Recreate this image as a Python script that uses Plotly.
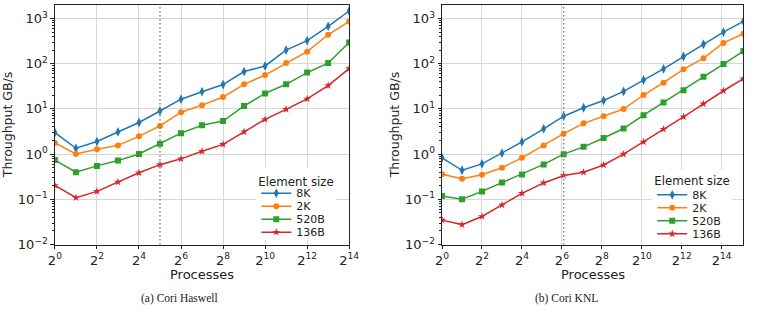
import math
import plotly.graph_objects as go

# ---------------- data ----------------
series_names = ["8K", "2K", "520B", "136B"]

haswell_procs = [1, 2, 4, 8, 16, 32, 64, 128, 256, 512, 1024, 2048, 4096, 8192, 16384]
haswell_8K = [3.0, 1.35, 1.9, 3.1, 5.0, 9.0, 16.4, 24, 34.5, 67, 89, 200, 324, 671, 1460]
haswell_2K = [1.77, 1.01, 1.28, 1.56, 2.47, 4.2, 8.45, 12.1, 18.3, 35, 56, 103, 184, 436, 861]
haswell_520B = [0.74, 0.40, 0.55, 0.72, 1.01, 1.69, 2.91, 4.34, 5.4, 11.6, 22, 35, 63.6, 103, 293]
haswell_136B = [0.203, 0.109, 0.150, 0.242, 0.387, 0.585, 0.787, 1.156, 1.64, 3.12, 5.85, 9.8, 16.6, 32.8, 77.6]

knl_procs = [1, 2, 4, 8, 16, 34, 68, 136, 272, 544, 1088, 2176, 4352, 8704, 17408, 34816]
knl_8K = [0.83, 0.44, 0.61, 1.05, 1.86, 3.63, 6.9, 10.6, 15.3, 24.4, 43.6, 76.4, 144, 269, 499, 861]
knl_2K = [0.36, 0.287, 0.35, 0.50, 0.83, 1.56, 2.83, 4.8, 6.9, 9.95, 20.3, 38, 75, 132, 288, 458]
knl_520B = [0.119, 0.101, 0.150, 0.235, 0.356, 0.593, 1.0, 1.45, 2.27, 3.68, 7.28, 13.9, 26, 51.4, 98, 190]
knl_136B = [0.0348, 0.0277, 0.0419, 0.075, 0.136, 0.231, 0.338, 0.398, 0.575, 1.0, 1.86, 3.56, 6.68, 12.9, 25.2, 46.5]

haswell_node = 32
knl_node = 68

x_tick_exps = [0, 2, 4, 6, 8, 10, 12, 14]
y_tick_exps = [-2, -1, 0, 1, 2, 3]

# ---------------- style ----------------
colors = ["#1f77b4", "#ff7f0e", "#2ca02c", "#d62728"]
symbols = ["diamond-tall", "circle", "square", "star"]
msizes = [7, 6, 6, 6]
FONT = "DejaVu Sans"
TXT = "#222222"

fig = go.Figure()
haswell = [haswell_8K, haswell_2K, haswell_520B, haswell_136B]
knl = [knl_8K, knl_2K, knl_520B, knl_136B]
for i, name in enumerate(series_names):
    common = dict(mode="lines+markers", name=name,
                  line=dict(color=colors[i], width=1.5),
                  marker=dict(color=colors[i], symbol=symbols[i], size=msizes[i], line=dict(width=0)))
    fig.add_trace(go.Scatter(x=haswell_procs, y=haswell[i], xaxis="x", yaxis="y",
                             legend="legend", **common))
    fig.add_trace(go.Scatter(x=knl_procs, y=knl[i], xaxis="x2", yaxis="y2",
                             legend="legend2", **common))

W, H = 759, 314
def px_x(p):
    return p / W
def px_y(p):
    return (H - p) / H

ydom = [px_y(251), px_y(5)]
minor_vals = [m * 10 ** e for e in range(-2, 4) for m in range(2, 10)]

def xaxis(dom, xmax, anchor):
    return dict(domain=dom, type="log", range=[0, math.log10(xmax)], anchor=anchor,
                tickmode="array", tickvals=[2 ** e for e in x_tick_exps],
                ticktext=["2<sup>%d</sup>" % e for e in x_tick_exps],
                showgrid=True, gridcolor="#d6d6d6", gridwidth=0.8,
                ticks="outside", ticklen=3.5, tickwidth=0.8, tickcolor=TXT,
                showline=True, linecolor=TXT, linewidth=1, mirror=True,
                zeroline=False, tickfont=dict(size=13, color=TXT))

def yaxis(anchor):
    return dict(domain=ydom, type="log", range=[-2, 3.30], anchor=anchor,
                tickmode="array", tickvals=[10.0 ** e for e in y_tick_exps],
                ticktext=["10<sup>%s</sup>" % (str(e).replace("-", "\u2212")) for e in y_tick_exps],
                showgrid=True, gridcolor="#d6d6d6", gridwidth=0.8,
                ticks="outside", ticklen=3.5, tickwidth=0.8, tickcolor=TXT,
                minor=dict(tickmode="array", tickvals=minor_vals, ticks="outside",
                           ticklen=2, tickwidth=0.6, tickcolor=TXT, showgrid=False),
                showline=True, linecolor=TXT, linewidth=1, mirror=True,
                zeroline=False, tickfont=dict(size=13, color=TXT))

def legend(x, y):
    return dict(x=x, y=y, xanchor="left", yanchor="top", bgcolor="white",
                borderwidth=0, itemwidth=30, tracegroupgap=0,
                title=dict(text="Element size", font=dict(size=11.8, color=TXT)),
                font=dict(size=11, color=TXT))

fig.update_layout(
    width=W, height=H, margin=dict(l=0, r=0, t=0, b=0),
    paper_bgcolor="white", plot_bgcolor="white",
    font=dict(family=FONT, size=12, color=TXT),
    xaxis=xaxis([px_x(49), px_x(350)], max(haswell_procs), "y"),
    yaxis=yaxis("x"),
    xaxis2=xaxis([px_x(445), px_x(753.3)], max(knl_procs), "y2"),
    yaxis2=yaxis("x2"),
    legend=legend(px_x(255), px_y(172)),
    legend2=legend(px_x(660), px_y(174)),
    showlegend=True,
)

for xref, yref, xv in (("x", "y domain", haswell_node), ("x2", "y2 domain", knl_node)):
    fig.add_shape(type="line", xref=xref, yref=yref, x0=xv, x1=xv, y0=0, y1=1,
                  line=dict(color="#7f7f7f", width=1.4, dash="1.5px,2.5px"))

annos = [
    dict(text="Throughput GB/s", x=px_x(0.5), y=(ydom[0] + ydom[1]) / 2, textangle=-90, size=12.5, fam=FONT),
    dict(text="Throughput GB/s", x=px_x(396.5), y=(ydom[0] + ydom[1]) / 2, textangle=-90, size=12.5, fam=FONT),
    dict(text="Processes", x=px_x(199.5), y=px_y(282), textangle=0, size=13, fam=FONT),
    dict(text="Processes", x=px_x(599), y=px_y(282), textangle=0, size=13, fam=FONT),
    dict(text="(a) Cori Haswell", x=px_x(176), y=px_y(306), textangle=0, size=11.5, fam="Liberation Serif"),
    dict(text="(b) Cori KNL", x=px_x(572), y=px_y(306), textangle=0, size=11.5, fam="Liberation Serif"),
]
for a in annos:
    fig.add_annotation(text=a["text"], x=a["x"], y=a["y"], xref="paper", yref="paper",
                       xanchor="center", yanchor="middle", textangle=a["textangle"],
                       showarrow=False, font=dict(family=a["fam"], size=a["size"], color=TXT))

# compact legend rows (matplotlib-like spacing); targets are pixel centres of rows
js = """
var gd = document.getElementById('{plot_id}');
var STEP = 13, PADB = 8;
var targets = {legend: {first: 193.2, title: 181.7}, legend2: {first: 194.8, title: 184}};
['legend', 'legend2'].forEach(function(cls) {
  var leg = gd.querySelector('g.' + cls);
  if (!leg) return;
  var lm = /translate\\(\\s*([-\\d.e]+)[\\s,]+([-\\d.e]+)\\s*\\)/.exec(leg.getAttribute('transform') || '');
  var ly = lm ? parseFloat(lm[2]) : 0;
  var tr = leg.querySelectorAll('g.traces');
  if (!tr.length) return;
  var m = /translate\\(\\s*([-\\d.e]+)[\\s,]+([-\\d.e]+)\\s*\\)/.exec(tr[0].getAttribute('transform') || '');
  if (!m) return;
  var x0 = parseFloat(m[1]);
  var y0 = lm ? targets[cls].first - ly : parseFloat(m[2]) - 6;
  for (var i = 0; i < tr.length; i++) {
    tr[i].setAttribute('transform', 'translate(' + x0 + ',' + (y0 + i * STEP) + ')');
  }
  var tt = leg.querySelector('text.legendtitletext');
  if (tt && lm) {
    var bb = tt.getBBox();
    var cy = bb.y + bb.height / 2;
    var cur = parseFloat(tt.getAttribute('y') || '0');
    tt.setAttribute('y', cur + (targets[cls].title - ly) - cy);
  }
  var bg = leg.querySelector('rect.bg');
  if (bg) { bg.setAttribute('height', y0 + (tr.length - 1) * STEP + PADB); }
});
"""
fig.write_html("out.html", post_script=js)
